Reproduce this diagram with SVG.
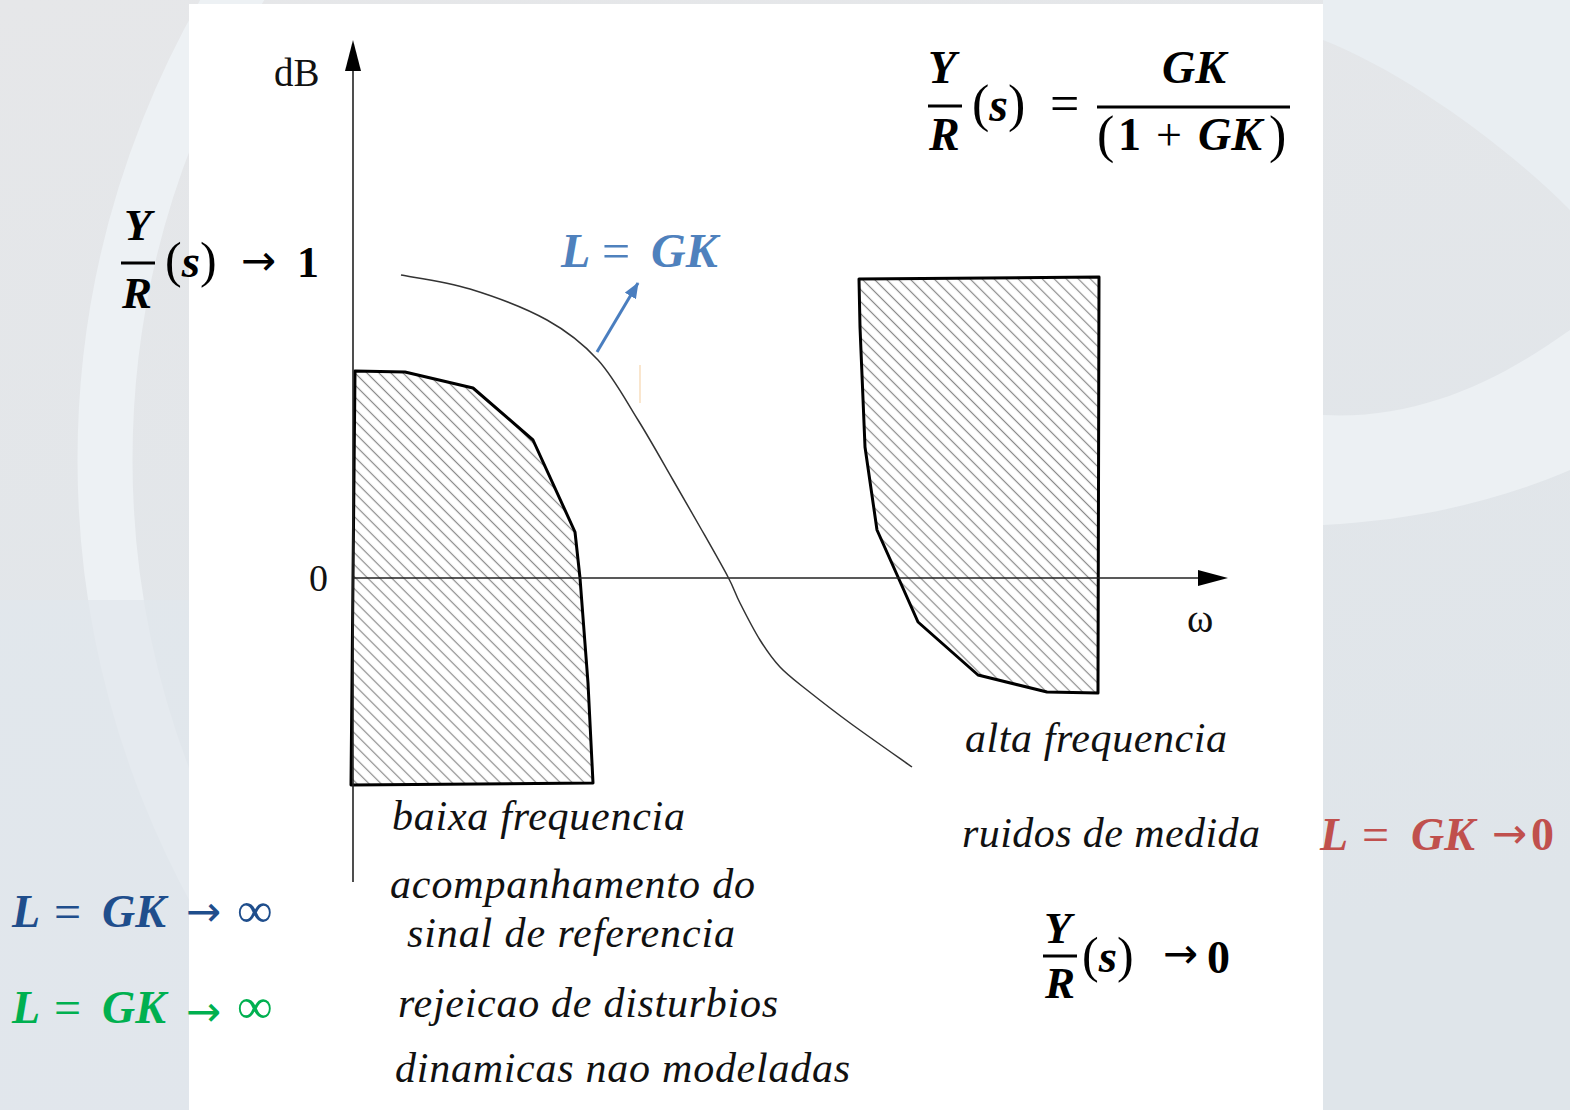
<svg xmlns="http://www.w3.org/2000/svg" width="1570" height="1110" viewBox="0 0 1570 1110">
<defs>
<style>
.serif{font-family:"Liberation Serif","Times New Roman",serif;}
.mi{font-family:"Liberation Serif","Times New Roman",serif;font-weight:bold;font-style:italic;}
.mb{font-family:"Liberation Serif","Times New Roman",serif;font-weight:bold;}
.mr{font-family:"Liberation Serif","Times New Roman",serif;}
.arr{font-family:"DejaVu Sans",sans-serif;font-size:42px;}
.lbl{font-family:"Liberation Serif","Times New Roman",serif;font-style:italic;font-size:42px;fill:#111;}
.ax{stroke:#222;stroke-width:1.6;fill:none;}
.region{fill:url(#hatch);stroke:#000;stroke-width:3;stroke-linejoin:round;}
</style>
<pattern id="hatch" patternUnits="userSpaceOnUse" width="8.5" height="8.5" patternTransform="rotate(-45)">
<rect width="8.5" height="8.5" fill="#fff"/>
<line x1="4.25" y1="-1" x2="4.25" y2="9.5" stroke="#8a8a8a" stroke-width="1.2"/>
</pattern>
<linearGradient id="bg" x1="0" y1="0" x2="0.3" y2="1">
<stop offset="0" stop-color="#e6e7e9"/>
<stop offset="1" stop-color="#dfe5ea"/>
</linearGradient>
<marker id="ahBlue" markerWidth="16" markerHeight="13" refX="15" refY="6.5" orient="auto" markerUnits="userSpaceOnUse">
<path d="M0,0 L16,6.5 L0,13 z" fill="#4a7ebf"/>
</marker>
</defs>

<g id="background">
<rect x="0" y="0" width="1570" height="1110" fill="url(#bg)"/>
<circle cx="1000" cy="460" r="895" fill="none" stroke="#edf1f4" stroke-width="55"/>
<path d="M1323,40 C1400,70 1500,140 1570,210 L1570,0 L1323,0 z" fill="#e9eef2"/>
<path d="M1323,415 C1420,420 1500,380 1570,330 L1570,470 C1500,500 1420,520 1323,525 z" fill="#ecf0f3"/>
<path d="M0,600 L190,600 L190,1110 L0,1110 z" fill="#e1e7ec" opacity="0.7"/>
</g>

<g id="panel">
<rect x="189" y="4" width="1134" height="1106" fill="#fff"/>
</g>

<g id="regions">
<polygon id="low-region" class="region" points="355,371 405,372 473,388 533,440 575,532 580,578 588,683 593,783 351,785"/>
<polygon id="high-region" class="region" points="859,279 1099,277 1098,693 1047,692 978,675 918,622 898,577 877,530 865,447 860,327"/>
</g>

<g id="connectors">
<line class="ax" x1="353" y1="882" x2="353" y2="66"/>
<path d="M353,40 L345,71 L361,71 z" fill="#000"/>
<line class="ax" x1="353" y1="578" x2="1202" y2="578"/>
<path d="M1228,578 L1198,570 L1198,586 z" fill="#000"/>
<path id="curve" d="M401,275 C412.5,277.3 445.7,281.5 470,289 C494.3,296.5 525.7,308.2 547,320 C568.3,331.8 582.8,343.3 598,360 C613.2,376.7 625.5,400 638,420 C650.5,440 662.7,462.2 673,480 C683.3,497.8 690.8,510.8 700,527 C709.2,543.2 721.3,564.3 728,577 C734.7,589.7 734.7,592.5 740,603 C745.3,613.5 753.3,629.3 760,640 C766.7,650.7 772.2,658.7 780,667 C787.8,675.3 795.3,680.7 807,690 C818.7,699.3 832.5,710.2 850,723 C867.5,735.8 901.7,759.7 912,767" fill="none" stroke="#333" stroke-width="1.5"/>
<line x1="597" y1="352" x2="638" y2="283" stroke="#4a7ebf" stroke-width="3" marker-end="url(#ahBlue)"/>
<line x1="640" y1="365" x2="640" y2="403" stroke="#f6d5ad" stroke-width="1.2"/>
</g>

<g id="axis-labels">
<text class="serif" x="274" y="86" font-size="39" fill="#111">dB</text>
<text class="serif" x="309" y="591" font-size="38" fill="#111">0</text>
<text class="serif" x="1187" y="632" font-size="40" fill="#111">ω</text>
</g>

<g id="formula-main" fill="#000">
<text class="mi" x="928" y="83" font-size="46">Y</text>
<rect x="928" y="104.5" width="34" height="3"/>
<text class="mi" x="929" y="150" font-size="46">R</text>
<text class="mr" x="972" y="121" font-size="52">(<tspan class="mi" font-size="48">s</tspan>)</text>
<text class="mr" x="1050" y="121" font-size="52">=</text>
<text class="mi" x="1162" y="83" font-size="46">GK</text>
<rect x="1097" y="105.5" width="193" height="3"/>
<text class="mr" x="1097" y="152" font-size="52">(</text>
<text class="mb" x="1118" y="150" font-size="46">1</text>
<text class="mr" x="1156" y="150" font-size="46">+</text>
<text class="mi" x="1198" y="150" font-size="46">GK</text>
<text class="mr" x="1269" y="152" font-size="52">)</text>
</g>

<g id="formula-low" fill="#000">
<text class="mi" x="124" y="240" font-size="45">Y</text>
<rect x="121" y="261.5" width="34" height="3"/>
<text class="mi" x="122" y="308" font-size="45">R</text>
<text class="mr" x="165" y="277" font-size="50">(<tspan class="mi" font-size="47">s</tspan>)</text>
<text class="arr" x="241" y="275">→</text>
<text class="mb" x="297" y="277" font-size="44">1</text>
</g>

<g id="formula-high" fill="#000">
<text class="mi" x="1044" y="943" font-size="45">Y</text>
<rect x="1043" y="954.5" width="34" height="3"/>
<text class="mi" x="1045" y="998" font-size="45">R</text>
<text class="mr" x="1082" y="972" font-size="50">(<tspan class="mi" font-size="47">s</tspan>)</text>
<text class="arr" x="1163" y="968">→</text>
<text class="mb" x="1207" y="973" font-size="46">0</text>
</g>

<g id="label-L" fill="#4f81bd">
<text class="mi" x="561" y="267" font-size="48">L</text>
<text class="mr" x="602" y="268" font-size="50">=</text>
<text class="mi" x="651" y="267" font-size="48">GK</text>
</g>

<g id="label-L-inf-blue" fill="#1f4e8c">
<text class="mi" x="12" y="927" font-size="46">L</text>
<text class="mr" x="54" y="928" font-size="48">=</text>
<text class="mi" x="102" y="927" font-size="46">GK</text>
<text class="arr" x="186" y="926">→</text>
<text class="mr" x="237" y="927" font-size="50">∞</text>
</g>

<g id="label-L-inf-green" fill="#00b050">
<text class="mi" x="12" y="1023" font-size="46">L</text>
<text class="mr" x="54" y="1024" font-size="48">=</text>
<text class="mi" x="102" y="1023" font-size="46">GK</text>
<text class="arr" x="186" y="1026">→</text>
<text class="mr" x="237" y="1023" font-size="50">∞</text>
</g>

<g id="label-L-zero" fill="#c0504d">
<text class="mi" x="1320" y="850" font-size="46">L</text>
<text class="mr" x="1362" y="851" font-size="48">=</text>
<text class="mi" x="1411" y="850" font-size="46">GK</text>
<text class="arr" x="1492" y="848">→</text>
<text class="mb" x="1531" y="850" font-size="46">0</text>
</g>

<g id="low-text">
<text class="lbl" x="392" y="830" textLength="293">baixa frequencia</text>
<text class="lbl" x="390" y="898" textLength="365">acompanhamento do</text>
<text class="lbl" x="407" y="947" textLength="328">sinal de referencia</text>
<text class="lbl" x="398" y="1017" textLength="380">rejeicao de disturbios</text>
<text class="lbl" x="395" y="1082" textLength="455">dinamicas nao modeladas</text>
</g>

<g id="high-text">
<text class="lbl" x="965" y="752" textLength="262">alta frequencia</text>
<text class="lbl" x="962" y="847" textLength="298">ruidos de medida</text>
</g>
</svg>
